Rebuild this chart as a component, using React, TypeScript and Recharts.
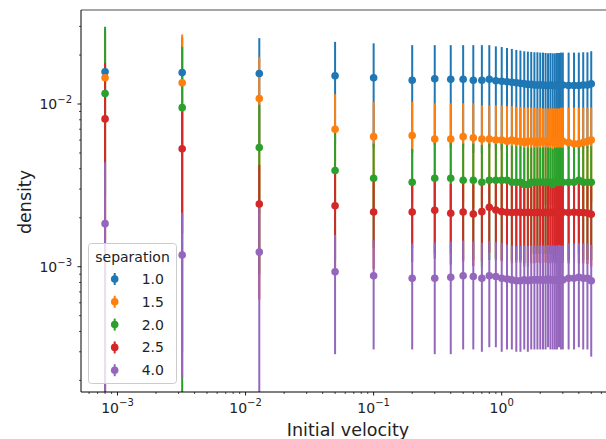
import React from 'react';
import { ScatterChart, Scatter, XAxis, YAxis, ErrorBar, ReferenceLine } from 'recharts';

const FONT = '"DejaVu Sans", sans-serif';
const INK = '#222';

const velocity = [
  0.0008, 0.0032, 0.0128, 0.05, 0.1, 0.2, 0.3, 0.4, 0.5, 0.6, 0.7, 0.8, 0.9, 1.0,
  1.1, 1.2, 1.3, 1.4, 1.5, 1.6, 1.7, 1.8, 1.9, 2.0, 2.1, 2.2, 2.3, 2.4, 2.5, 2.6, 2.7, 2.8, 2.9, 3.0,
  3.33, 3.67, 4.0, 4.33, 4.67, 5.0,
];

const separations = ['1.0', '1.5', '2.0', '2.5', '4.0'];
const colors = ['#1f77b4', '#ff7f0e', '#2ca02c', '#d62728', '#9467bd'];

const density10 = [
  0.0158, 0.0156, 0.0154, 0.0149, 0.0145, 0.014, 0.0143, 0.0142, 0.0142, 0.014, 0.014, 0.0142, 0.0139, 0.0138,
  0.0137, 0.0136, 0.0135, 0.0134, 0.0133, 0.0132, 0.0132, 0.0131, 0.0131, 0.0131, 0.0131, 0.013, 0.013, 0.0131, 0.013, 0.013, 0.0131, 0.013, 0.0131, 0.0131,
  0.013, 0.013, 0.013, 0.0131, 0.0131, 0.0133,
];
const err10 = [
  0.013, 0.01, 0.01, 0.0092, 0.0091, 0.009, 0.0087, 0.0088, 0.0088, 0.009, 0.009, 0.0088, 0.0087, 0.0086,
  0.0084, 0.0082, 0.008, 0.0079, 0.0078, 0.0078, 0.0077, 0.0077, 0.0077, 0.0076, 0.0076, 0.0076, 0.0075, 0.0075, 0.0075, 0.0075, 0.0075, 0.0076, 0.0076, 0.0076,
  0.0077, 0.0077, 0.0077, 0.0077, 0.0077, 0.0078,
];

const density15 = [
  0.0145, 0.0135, 0.0108, 0.007, 0.0063, 0.0064, 0.0061, 0.0061, 0.0063, 0.0062, 0.0061, 0.0061, 0.006, 0.006,
  0.0059, 0.006, 0.0059, 0.0059, 0.0058, 0.0059, 0.0059, 0.0059, 0.0058, 0.0059, 0.0059, 0.0059, 0.0058, 0.0059, 0.0059, 0.0059, 0.0058, 0.0058, 0.0059, 0.0059,
  0.0058, 0.0057, 0.0057, 0.0058, 0.0059, 0.006,
];
const err15 = [
  0.013, 0.0132, 0.0087, 0.0045, 0.004, 0.0039, 0.004, 0.004, 0.0038, 0.0039, 0.0037, 0.0037, 0.0038, 0.0038,
  0.0038, 0.0037, 0.0037, 0.0037, 0.0037, 0.0036, 0.0036, 0.0036, 0.0036, 0.0036, 0.0035, 0.0035, 0.0036, 0.0035, 0.0035, 0.0035, 0.0036, 0.0036, 0.0036, 0.0036,
  0.0037, 0.0038, 0.0038, 0.0037, 0.0036, 0.0035,
];

const density20 = [
  0.0116, 0.0095, 0.0054, 0.0039, 0.0035, 0.0033, 0.0035, 0.0035, 0.0034, 0.0034, 0.0033, 0.0034, 0.0034, 0.0034,
  0.0034, 0.0033, 0.0033, 0.0033, 0.0032, 0.0032, 0.0033, 0.0033, 0.0033, 0.0033, 0.0033, 0.0033, 0.0033, 0.0033, 0.0032, 0.0033, 0.0033, 0.0033, 0.0033, 0.0033,
  0.0033, 0.0033, 0.0034, 0.0033, 0.0033, 0.0033,
];
const err20 = [
  0.0182, 0.013, 0.0045, 0.0028, 0.0022, 0.002, 0.0023, 0.0023, 0.0023, 0.0023, 0.0023, 0.0023, 0.0023, 0.0023,
  0.0022, 0.0022, 0.0022, 0.0022, 0.0022, 0.0022, 0.0021, 0.0021, 0.0021, 0.0021, 0.0021, 0.0021, 0.0021, 0.0021, 0.0021, 0.0021, 0.0021, 0.0021, 0.0021, 0.0021,
  0.0022, 0.0022, 0.0022, 0.0022, 0.0022, 0.0022,
];

const density25 = [
  0.0081, 0.0053, 0.00243, 0.00237, 0.00217, 0.00217, 0.00222, 0.00213, 0.00217, 0.00211, 0.00218, 0.00232, 0.00223, 0.00218,
  0.00216, 0.00215, 0.00216, 0.00216, 0.00215, 0.00216, 0.00215, 0.00215, 0.00216, 0.00215, 0.00215, 0.00216, 0.00215, 0.00215, 0.00216, 0.00215, 0.00215, 0.00216, 0.00215, 0.00216,
  0.00215, 0.00216, 0.00215, 0.00215, 0.00214, 0.0021,
];
const err25 = [
  0.0097, 0.0037, 0.0018, 0.0014, 0.0012, 0.0011, 0.0011, 0.0011, 0.0011, 0.0011, 0.0011, 0.0011, 0.0011, 0.0011,
  0.0011, 0.0011, 0.0011, 0.0011, 0.0011, 0.0011, 0.0011, 0.0011, 0.0011, 0.0011, 0.0011, 0.0011, 0.0011, 0.0011, 0.0011, 0.0011, 0.0011, 0.0011, 0.0011, 0.0011,
  0.0011, 0.0011, 0.0011, 0.0011, 0.0011, 0.0011,
];

const density40 = [
  0.00184, 0.00118, 0.00123, 0.00093, 0.00088, 0.00085, 0.00085, 0.00086, 0.00088, 0.00087, 0.00085, 0.00088, 0.00087, 0.00085,
  0.00084, 0.00083, 0.00082, 0.00082, 0.00083, 0.00082, 0.00083, 0.00083, 0.00083, 0.00083, 0.00083, 0.00083, 0.00084, 0.00083, 0.00083, 0.00083, 0.00083, 0.00084, 0.00083, 0.00083,
  0.00085, 0.00085, 0.00086, 0.00085, 0.00085, 0.00082,
];
const err40 = [
  0.00254, 0.00097, 0.0011, 0.00064, 0.00057, 0.00054, 0.00056, 0.00057, 0.00057, 0.00056, 0.00055, 0.00056, 0.00055, 0.00055,
  0.00053, 0.00052, 0.00052, 0.00052, 0.00052, 0.00052, 0.00052, 0.00052, 0.00052, 0.00052, 0.00052, 0.00052, 0.00052, 0.00052, 0.00052, 0.00052, 0.00052, 0.00052, 0.00052, 0.00052,
  0.00054, 0.00054, 0.00054, 0.00054, 0.00054, 0.00054,
];

const X_DOMAIN: [number, number] = [5.19e-4, 6.52];
const Y_DOMAIN: [number, number] = [1.698e-4, 0.03783];

const xTicks = [
  6e-4, 7e-4, 8e-4, 9e-4, 1e-3, 2e-3, 3e-3, 4e-3, 5e-3, 6e-3, 7e-3, 8e-3, 9e-3,
  1e-2, 2e-2, 3e-2, 4e-2, 5e-2, 6e-2, 7e-2, 8e-2, 9e-2,
  0.1, 0.2, 0.3, 0.4, 0.5, 0.6, 0.7, 0.8, 0.9, 1, 2, 3, 4, 5, 6,
];
const yTicks = [
  2e-4, 3e-4, 4e-4, 5e-4, 6e-4, 7e-4, 8e-4, 9e-4, 1e-3, 2e-3, 3e-3, 4e-3, 5e-3, 6e-3, 7e-3, 8e-3, 9e-3,
  1e-2, 2e-2, 3e-2,
];

const densities = [density10, density15, density20, density25, density40];
const errors = [err10, err15, err20, err25, err40];

// error bars are clipped at the bottom of the axes (a log scale can't go below zero)
const series = densities.map((dens, s) =>
  velocity.map((v, i) => ({
    v,
    d: dens[i],
    err: [Math.min(errors[s][i], dens[i] - Y_DOMAIN[0]), errors[s][i]],
  })),
);

const isMajor = (v: number) => Math.abs(Math.log10(v) - Math.round(Math.log10(v))) < 1e-6;
const expLabel = (v: number) => {
  const e = Math.round(Math.log10(v));
  return e < 0 ? '\u2212' + -e : String(e);
};

const XTick = (props: any) => {
  const { x, y, payload } = props;
  const major = isMajor(payload.value);
  return (
    <g>
      <line x1={x} x2={x} y1={y} y2={y + (major ? 3.5 : 2)} stroke="#000" strokeWidth={major ? 0.9 : 0.7} />
      {major && (
        <text x={x} y={y + 20.5} textAnchor="middle" fontSize={14} fill={INK} fontFamily={FONT}>
          <tspan>10</tspan>
          <tspan dy={-6.5} fontSize={10}>{expLabel(payload.value)}</tspan>
        </text>
      )}
    </g>
  );
};

const YTick = (props: any) => {
  const { x, y, payload } = props;
  const major = isMajor(payload.value);
  return (
    <g>
      <line x1={x - (major ? 3.5 : 2)} x2={x} y1={y} y2={y} stroke="#000" strokeWidth={major ? 0.9 : 0.7} />
      {major && (
        <text x={x - 9} y={y + 5.3} textAnchor="end" fontSize={14} fill={INK} fontFamily={FONT}>
          <tspan>10</tspan>
          <tspan dy={-6.5} fontSize={10}>{expLabel(payload.value)}</tspan>
        </text>
      )}
    </g>
  );
};

const Dot = (color: string) => (p: any) => <circle cx={p.cx} cy={p.cy} r={3.8} fill={color} />;
const NoDot = () => <g />;

function LegendBox() {
  return (
    <svg width={90} height={142} style={{ position: 'absolute', left: 88, top: 243 }}>
      <rect x={0.5} y={0.5} width={88} height={140} rx={3} fill="#fff" fillOpacity={0.8} stroke="#ccc" />
      <text x={44.5} y={18.7} textAnchor="middle" fontSize={14} fill={INK} fontFamily={FONT}>
        separation
      </text>
      {separations.map((s, i) => {
        const cy = 36 + i * 22.8;
        return (
          <g key={s}>
            <line x1={26.7} x2={26.7} y1={cy - 6} y2={cy + 6} stroke={colors[i]} strokeWidth={2} />
            <circle cx={26.7} cy={cy} r={3.8} fill={colors[i]} />
            <text x={53.7} y={cy + 5} fontSize={14} fill={INK} fontFamily={FONT}>
              {s}
            </text>
          </g>
        );
      })}
    </svg>
  );
}

export default function App() {
  return (
    <div style={{ position: 'absolute', left: 0, top: 0, width: 606, height: 439, background: '#fff', fontFamily: FONT }}>
      <ScatterChart width={606} height={439} margin={{ top: 10, right: 0, bottom: 0, left: 0 }}>
        <XAxis
          type="number"
          dataKey="v"
          scale="log"
          domain={X_DOMAIN}
          allowDataOverflow
          ticks={xTicks}
          interval={0}
          tick={<XTick />}
          tickLine={false}
          tickSize={0}
          tickMargin={0}
          height={47}
          axisLine={{ stroke: '#000', strokeWidth: 1 }}
          label={{
            content: () => (
              <text x={348} y={435.5} textAnchor="middle" fontSize={17.5} fill={INK} fontFamily={FONT}>
                Initial velocity
              </text>
            ),
          }}
        />
        <YAxis
          type="number"
          dataKey="d"
          scale="log"
          domain={Y_DOMAIN}
          allowDataOverflow
          ticks={yTicks}
          interval={0}
          tick={<YTick />}
          tickLine={false}
          tickSize={0}
          tickMargin={0}
          width={81}
          axisLine={{ stroke: '#000', strokeWidth: 1 }}
          label={{
            content: () => (
              <text transform="translate(31,202) rotate(-90)" textAnchor="middle" fontSize={17.5} fill={INK} fontFamily={FONT}>
                density
              </text>
            ),
          }}
        />
        <ReferenceLine y={Y_DOMAIN[1]} stroke="#888" strokeWidth={1.6} />
        {series.map((rows, s) => (
          <Scatter key={`bars-${s}`} data={rows} shape={NoDot} isAnimationActive={false} legendType="none">
            <ErrorBar dataKey="err" direction="y" width={0} stroke={colors[s]} strokeWidth={2} isAnimationActive={false} />
          </Scatter>
        ))}
        {series.map((rows, s) => (
          <Scatter
            key={`dots-${s}`}
            name={separations[s]}
            data={rows}
            shape={Dot(colors[s])}
            isAnimationActive={false}
          />
        ))}
      </ScatterChart>
      <LegendBox />
    </div>
  );
}
